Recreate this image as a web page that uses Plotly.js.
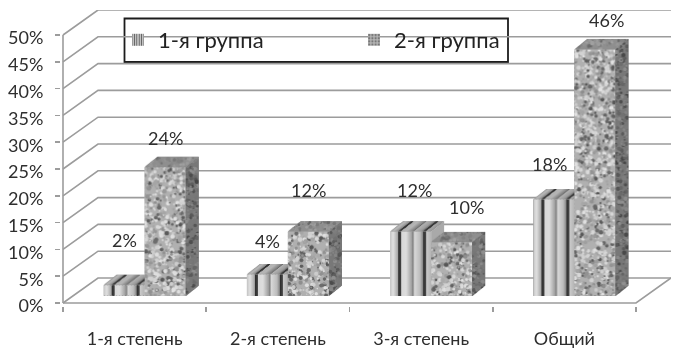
<!DOCTYPE html>
<html><head><meta charset="utf-8">
<script src="https://cdn.plot.ly/plotly-3.0.1.min.js"></script>
<style>html,body{margin:0;padding:0;background:#fff}#c{width:678px;height:350px;filter:blur(0.35px)}</style>
</head><body><div id="c"></div>
<script>
// ---- data ----
const categories = ['1-я степень','2-я степень','3-я степень','Общий'];
const group1 = [2,4,12,18];
const group2 = [24,12,10,46];
const seriesNames = ['1-я группа','2-я группа'];
const yTicks = [0,5,10,15,20,25,30,35,40,45,50];

// ---- label placement (pixels above the bar front, sideways shift) ----
const lift1 = [45,34,42,36], shift1 = [0,0,4,-4];
const lift2 = [29,42,35,29], shift2 = [0,0,15,12];

// ---- projection / layout constants ----
const UX = 143.25, UY = 5.36;          // pixels per category / per percent
const wallDX = 35/UX, wallDY = 25/UY;  // depth of the wall
const barDX = 13/UX, barDY = 10.5/UY;  // depth of a bar
const barW = 41/UX, floorY = 7/UY, shiftX = 0.57;
const padL = 2, padB = 3, W = 678, H = 350;
const mL = 61, mT = 10, mR = 7, mB = 44;
const xr = [-padL/UX, 608/UX], yr = [-padB/UY, 293/UY];
const labelDrop = 3/UY;
const GRID = '#9c9c9c', TXT = '#2e2e2e';
const FONT = 'Lato, "Open Sans", sans-serif';

// ---- textures (decoration only, seeded, not data) ----
let seed = 12345;
const rnd = () => (seed = (seed*1103515245+12345) & 0x7fffffff) / 0x7fffffff;
function granite(ctx,w,h,base,lo,hi,dark,blur,density){
  ctx.fillStyle = base; ctx.fillRect(0,0,w,h);
  ctx.filter = `blur(${blur}px)`;
  const n = Math.ceil(w*h/density);
  for(let i=0;i<n;i++){
    const t = rnd(), g = t<dark ? lo+rnd()*25 : t<0.65 ? hi-rnd()*25 : (lo+hi)/2+rnd()*30-15;
    ctx.fillStyle = `rgb(${g|0},${g|0},${g|0})`;
    ctx.beginPath(); ctx.arc(rnd()*w,rnd()*h,0.7+rnd()*1.6,0,7); ctx.fill();
  }
  ctx.filter='none';
}
const stripeStops = [[0,'#c4c4c4'],[3,'#e2e2e2'],[7.5,'#a8a8a8'],[8.5,'#303030'],[10.5,'#404040'],[11,'#d8d8d8'],[16,'#dedede'],[22,'#9a9a9a'],[23,'#707070'],[24,'#dadada'],[30,'#bcbcbc'],[32.5,'#8a8a8a'],[33.5,'#303030'],[35.5,'#484848'],[36,'#cccccc'],[41,'#b4b4b4']];
function stripes(ctx,x,y,w,h){
  const g = ctx.createLinearGradient(x,0,x+41,0);
  stripeStops.forEach(s=>g.addColorStop(s[0]/41,s[1]));
  ctx.fillStyle = g; ctx.fillRect(x,y,w,h);
}
// image laid over a polygon given in data coordinates
function faceImage(px,py,paint){
  const x0=Math.min(...px),x1=Math.max(...px),y0=Math.min(...py),y1=Math.max(...py);
  const w=Math.max(1,Math.round((x1-x0)*UX)),h=Math.max(1,Math.round((y1-y0)*UY));
  const cv=document.createElement('canvas');cv.width=w;cv.height=h;
  const ctx=cv.getContext('2d');
  ctx.beginPath();
  px.forEach((x,i)=>{const X=(x-x0)*UX,Y=(y1-py[i])*UY; i?ctx.lineTo(X,Y):ctx.moveTo(X,Y);});
  ctx.closePath();ctx.clip();
  paint(ctx,w,h);
  return {source:cv.toDataURL(),xref:'x',yref:'y',x:x0,y:y1,sizex:x1-x0,sizey:y1-y0,
          sizing:'stretch',xanchor:'left',yanchor:'top',layer:'above'};
}

// ---- walls, grid and axes as shapes beneath the bars ----
const shapes = [];
const ln = d => ({type:'path',path:d,xref:'x',yref:'y',layer:'below',line:{color:GRID,width:1.6}});
yTicks.forEach(v=>{
  shapes.push(ln(`M0,${v} L${wallDX},${v+wallDY} L${4+wallDX},${v+wallDY}`));
});
shapes.push(ln(`M0,0 L4,0 L${4+wallDX},${wallDY}`));
shapes.push(ln(`M0,0 L0,50`));
// legend frame (pixels turned into paper fractions)
const pw=W-mL-mR, ph=H-mT-mB;
const fx=p=>(p-mL)/pw, fy=p=>1-(p-mT)/ph;
shapes.push({type:'rect',xref:'paper',yref:'paper',x0:fx(124.5),x1:fx(508),y0:fy(62),y1:fy(18.5),
  layer:'below',fillcolor:'#fff',line:{color:'#1c1c1c',width:1.8}});

// ---- bars ----
const xBase = categories.map((c,i)=>i+shiftX);
const traces = [
 {type:'bar',name:seriesNames[0],x:xBase,y:group1,base:group1.map(()=>floorY),width:barW,offset:-barW,
  marker:{color:'#cfcfcf',line:{width:0},pattern:{shape:'|',fgcolor:'#5a5a5a',bgcolor:'#d8d8d8',size:3,solidity:0.45}},hoverinfo:'skip'},
 {type:'bar',name:seriesNames[1],x:xBase,y:group2,base:group2.map(()=>floorY),width:barW,offset:0,
  marker:{color:'#a8a8a8',line:{width:0},pattern:{shape:'.',fgcolor:'#777',bgcolor:'#b4b4b4',size:4,solidity:0.4}},hoverinfo:'skip'},
 {type:'scatter',mode:'none',x:[],y:[],xaxis:'x',yaxis:'y2',showlegend:false,hoverinfo:'skip'}
];
const images = [];
const face = (px,py,col) => traces.push({type:'scatter',mode:'none',fill:'toself',fillcolor:col,x:[...px,px[0]],y:[...py,py[0]],showlegend:false,hoverinfo:'skip'});

categories.forEach((c,i)=>{
  const xm=xBase[i], a=floorY+group1[i], b=floorY+group2[i];
  const sx0=xm-barW, sx1=xm, gx1=xm+barW;
  // front textures
  images.push(faceImage([sx0,sx1,sx1,sx0],[floorY,floorY,a,a],(ctx,w,h)=>stripes(ctx,0,0,w,h)));
  images.push(faceImage([sx1,gx1,gx1,sx1],[floorY,floorY,b,b],(ctx,w,h)=>granite(ctx,w,h,'#b0b0b0',85,228,0.2,0.55,8)));
  // top of group 1 (cut where the group 2 bar stands in front of it)
  const ahead = a<b;
  const tx=ahead?[sx0,sx1,sx1,sx0+barDX]:[sx0,sx1,sx1+barDX,sx0+barDX];
  const ty=[a,a,a+barDY,a+barDY];
  face(tx,ty,'#9a9a9a');
  const dxp=barDX*UX, dyp=barDY*UY;
  images.push(faceImage(tx,ty,(ctx,w,h)=>{
    ctx.setTransform(1,0,-dxp/dyp,1,dxp,0);
    stripes(ctx,0,0,41,h);
    ctx.fillStyle='rgba(40,40,40,0.22)';ctx.fillRect(-2,0,60,h);
  }));
  // side of group 1 where it rises above group 2
  if(!ahead){
    face([sx1,sx1+barDX,sx1+barDX,sx1],[a,a+barDY,b,b],'#a9a9a9');
  }
  // top and side of group 2
  const gtx=[sx1,gx1,gx1+barDX,sx1+barDX], gty=[b,b,b+barDY,b+barDY];
  face(gtx,gty,'#8c8c8c');
  images.push(faceImage(gtx,gty,(ctx,w,h)=>granite(ctx,w,h,'#8f8f8f',100,165,0.2,0.7,8)));
  const ssx=[gx1,gx1+barDX,gx1+barDX,gx1], ssy=[floorY,floorY+barDY,b+barDY,b];
  face(ssx,ssy,'#707070');
  images.push(faceImage(ssx,ssy,(ctx,w,h)=>granite(ctx,w,h,'#787878',70,145,0.25,0.6,8)));
});

// ---- value labels ----
const annotations = [];
categories.forEach((c,i)=>{
  annotations.push({x:xBase[i]-barW/2,y:floorY+group1[i],text:group1[i]+'%',showarrow:false,yanchor:'middle',xanchor:'center',yshift:lift1[i],xshift:shift1[i],font:{size:18,color:TXT,family:FONT}});
  annotations.push({x:xBase[i]+barW/2,y:floorY+group2[i],text:group2[i]+'%',showarrow:false,yanchor:'middle',xanchor:'center',yshift:lift2[i],xshift:shift2[i],font:{size:18,color:TXT,family:FONT}});
});

const layout = {
  width:W,height:H,margin:{l:mL,r:mR,t:mT,b:mB,autoexpand:false},
  paper_bgcolor:'#fff',plot_bgcolor:'rgba(0,0,0,0)',
  barmode:'overlay',showlegend:true,
  font:{family:FONT,color:TXT,size:18},
  xaxis:{range:xr,tickmode:'array',tickvals:categories.map((c,i)=>i+0.5),ticktext:categories,
    ticks:'outside',ticklen:16,tickcolor:'rgba(0,0,0,0)',showgrid:false,zeroline:false,showline:false,
    tickfont:{size:18,color:TXT,family:FONT},
    minor:{tickmode:'array',tickvals:[0,1,2,3,4],ticks:'outside',ticklen:5,tickcolor:GRID,tickwidth:1.6,showgrid:false}},
  yaxis:{range:yr,tickmode:'array',tickvals:yTicks,showticklabels:false,
    ticks:'outside',ticklen:5,tickcolor:GRID,tickwidth:1.6,showgrid:false,zeroline:false,showline:false},
  yaxis2:{overlaying:'y',side:'left',anchor:'x',range:[yr[0]+labelDrop,yr[1]+labelDrop],tickmode:'array',tickvals:yTicks,ticktext:yTicks.map(v=>v+'%'),
    ticks:'outside',ticklen:5,tickcolor:'rgba(0,0,0,0)',showgrid:false,zeroline:false,showline:false,
    ticklabelstandoff:8,tickfont:{size:18,color:TXT,family:FONT}},
  legend:{orientation:'h',x:fx(126),xanchor:'left',y:fy(19),yanchor:'top',bgcolor:'rgba(0,0,0,0)',borderwidth:0,
    indentation:-8,entrywidth:199,entrywidthmode:'pixels',font:{size:22,color:'#222',family:FONT}},
  shapes,images,annotations
};
Plotly.newPlot('c',traces,layout,{displayModeBar:false,staticPlot:true});
</script></body></html>
